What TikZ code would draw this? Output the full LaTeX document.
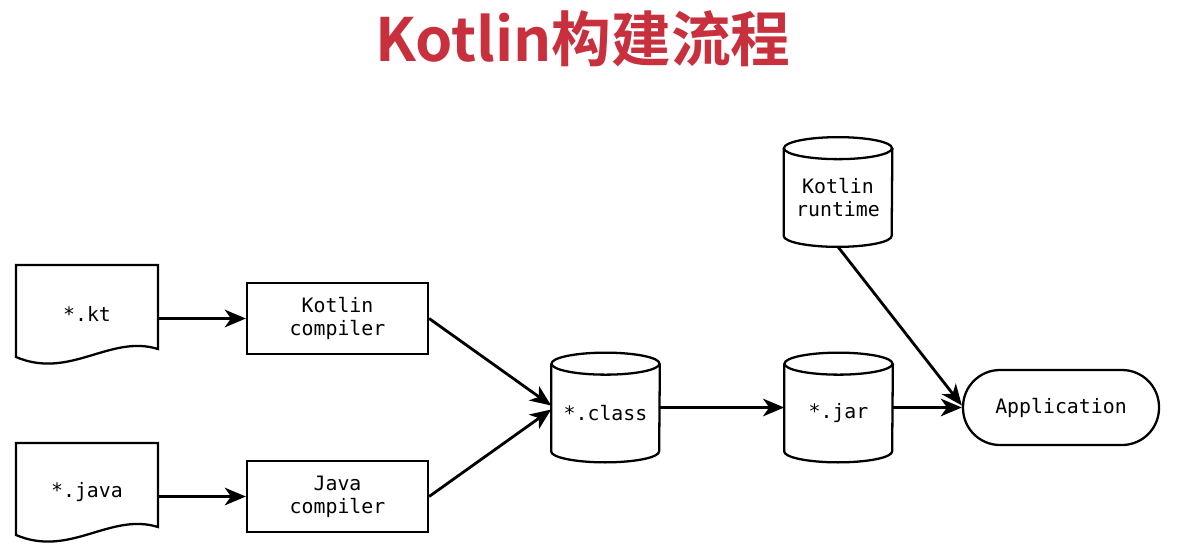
\documentclass[tikz,border=0pt]{standalone}
\usepackage{fontspec}
\setmonofont{DejaVu Sans Mono}
\newfontfamily\cjkbold{Noto Sans CJK SC Bold}
\usetikzlibrary{arrows.meta,calc}
\definecolor{titlered}{HTML}{C8303E}
\def\px{0.02cm}
\tikzset{
  lbl/.style={font=\ttfamily\fontsize{11.3}{13.3}\selectfont, align=center, inner sep=0pt},
  procbox/.style={lbl, draw, line width=1.3pt, minimum width=181*\px, minimum height=71*\px},
  dbnode/.style={lbl, minimum width=108*\px, minimum height=109*\px},
  dbtext/.style={lbl, yshift=-3.2pt},
  docnode/.style={lbl, minimum width=143*\px, minimum height=60*\px},
  appnode/.style={lbl, draw, line width=1.3pt, rounded corners=37*\px, minimum width=196*\px, minimum height=75*\px},
  shp/.style={line width=1.3pt},
  conn/.style={line width=1.6pt, -{Stealth[length=12pt,width=10pt,inset=3.5pt]}}
}
\newcommand{\mycyl}[1]{%
  \draw[shp] ($(#1.north west)+(0,-11*\px)$) -- ($(#1.south west)+(0,11*\px)$)
    arc[start angle=180, end angle=360, x radius=54*\px, y radius=11*\px]
    -- ($(#1.north east)+(0,-11*\px)$);
  \draw[shp] ($(#1.north)+(0,-11*\px)$) ellipse[x radius=54*\px, y radius=11*\px];
}
\begin{document}
\begin{tikzpicture}[x=0.02cm,y=-0.02cm]
\useasboundingbox (0,0) rectangle (1195,548);
\fill[white] (0,0) rectangle (1195,548);
% title
\node[text=titlered, font=\cjkbold\fontsize{34}{38}\selectfont, inner sep=0pt] (title) at (583,39) {Kotlin构建流程};
% documents
\draw[shp] (16,265) -- (158,265) -- (158,349) .. controls (110,334) and (70,380) .. (16,357) -- cycle;
\node[docnode] (kt) at (87,314) {*.kt};
\draw[shp] (16,443) -- (158,443) -- (158,527) .. controls (110,512) and (70,558) .. (16,535) -- cycle;
\node[docnode] (java) at (87,492) {*.java};
% compilers
\node[procbox] (kc) at (337.5,318.5) {Kotlin\\compiler};
\node[procbox] (jc) at (337.5,496.5) {Java\\compiler};
% cylinders
\node[dbnode, label={[dbtext]center:*.class}] (cls) at (605.5,407.5) {};
\mycyl{cls}
\node[dbnode, label={[dbtext]center:*.jar}] (jar) at (838.5,407.5) {};
\mycyl{jar}
\node[dbnode, label={[dbtext]center:Kotlin\\runtime}] (rt) at (838,192) {};
\mycyl{rt}
% application
\node[appnode] (app) at (1061,407.5) {Application};
% connectors
\draw[conn] (kt.east |- kc.west) -- (kc.west);
\draw[conn] (java.east |- jc.west) -- (jc.west);
\draw[conn] (kc.east) -- ($(cls.west)+(0,-2)$);
\draw[conn] (jc.east) -- ($(cls.west)+(0,2)$);
\draw[conn] (cls.east) -- (jar.west);
\draw[conn] (jar.east) -- (app.west);
\draw[conn] (rt.south) -- ($(app.west)+(0,-2)$);
\end{tikzpicture}
\end{document}
